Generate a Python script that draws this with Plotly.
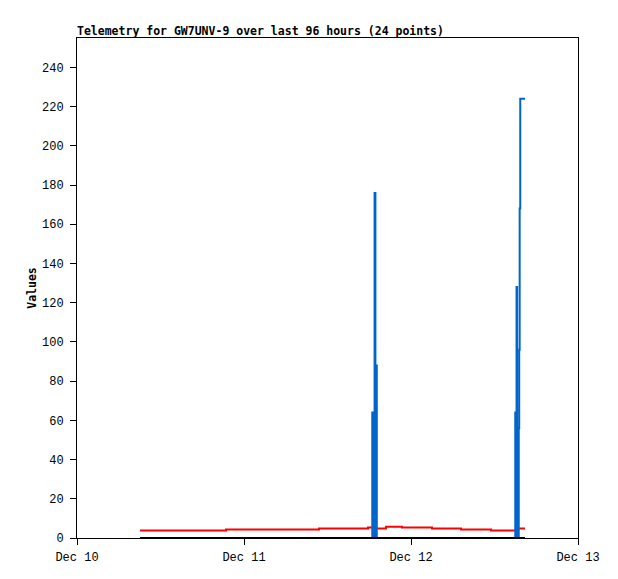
import plotly.graph_objects as go

times = [
    "2023-12-10 09:03", "2023-12-10 21:25", "2023-12-11 10:47", "2023-12-11 17:49",
    "2023-12-11 18:26", "2023-12-11 18:37", "2023-12-11 18:46", "2023-12-11 18:53",
    "2023-12-11 18:58", "2023-12-11 19:05", "2023-12-11 20:24", "2023-12-11 22:42",
    "2023-12-12 03:01", "2023-12-12 07:11", "2023-12-12 11:30", "2023-12-12 14:59",
    "2023-12-12 15:05", "2023-12-12 15:10", "2023-12-12 15:15", "2023-12-12 15:29",
    "2023-12-12 15:33", "2023-12-12 15:37", "2023-12-12 15:42", "2023-12-12 16:23",
]
red_values = [3.8, 4.3, 4.8, 5.4, 5.4, 5.4, 4.8, 4.8, 4.8, 4.8, 5.8, 5.3,
              4.8, 4.3, 3.8, 3.8, 3.8, 3.8, 4.8, 4.8, 4.8, 4.8, 4.8, 4.8]
blue_values = [0, 0, 0, 0, 64, 0, 176, 0, 88, 0, 0, 0,
               0, 0, 0, 64, 32, 128, 0, 56, 96, 168, 224, 224]
black_values = [0] * 24

x_tick_vals = ["2023-12-10", "2023-12-11", "2023-12-12", "2023-12-13"]
x_tick_text = ["Dec 10", "Dec 11", "Dec 12", "Dec 13"]
y_tick_vals = list(range(0, 241, 20))

title_text = "Telemetry for GW7UNV-9 over last 96 hours (24 points)"

# page body has an 8px default margin, so the figure is sized to compensate
W, H = 610, 571

fig = go.Figure()
fig.add_trace(go.Scatter(x=times, y=red_values, mode="lines",
                         line=dict(color="#ff0000", width=2, shape="hv")))
fig.add_trace(go.Scatter(x=times, y=blue_values, mode="lines",
                         line=dict(color="#0066cc", width=2, shape="hv")))
fig.add_trace(go.Scatter(x=times, y=black_values, mode="lines",
                         line=dict(color="#000000", width=2, shape="hv")))

mono = "Liberation Mono, DejaVu Sans Mono, monospace"
fig.update_layout(
    width=W, height=H,
    margin=dict(l=69, r=40, t=30, b=41, autoexpand=False),
    paper_bgcolor="white", plot_bgcolor="white",
    showlegend=False,
    title=dict(text="<b>" + title_text + "</b>", x=69 / W, xanchor="left",
               y=1 - 23 / H, yanchor="middle", automargin=False,
               font=dict(family="DejaVu Sans Mono", size=11.5, color="black")),
    xaxis=dict(range=["2023-12-10", "2023-12-13"], tickvals=x_tick_vals,
               ticktext=x_tick_text, ticks="outside", ticklen=6, tickcolor="black",
               showgrid=False, zeroline=False, showline=True, linecolor="black",
               linewidth=1, mirror=True, automargin=False, ticklabelstandoff=2,
               tickfont=dict(family=mono, size=12, color="black")),
    yaxis=dict(range=[0, 255], tickvals=y_tick_vals, ticks="outside", ticklen=6,
               tickcolor="black", showgrid=False, zeroline=False, showline=True,
               linecolor="black", linewidth=1, mirror=True, automargin=False,
               ticklabelstandoff=4,
               title=dict(text="<b>Values</b>", standoff=2,
                          font=dict(family="DejaVu Sans Mono", size=11.5, color="black")),
               tickfont=dict(family=mono, size=12, color="black")),
)

fig.write_html("out.html")
